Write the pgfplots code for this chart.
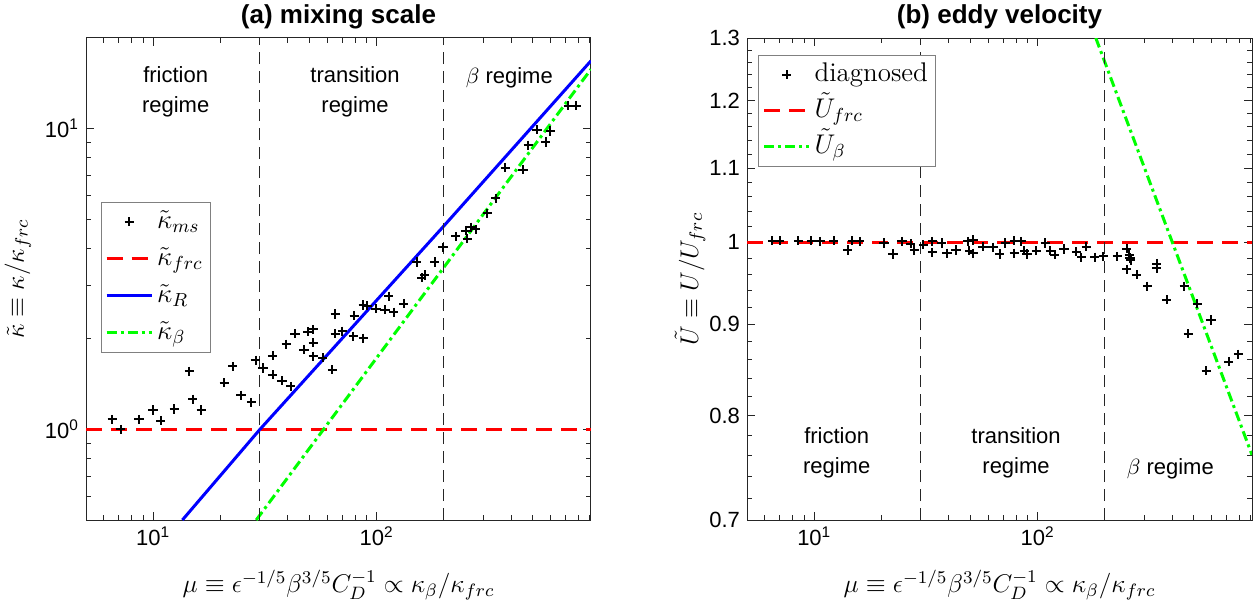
\RequirePackage{fix-cm}
\documentclass[border=0pt]{standalone}
\usepackage{fontspec}
\setmainfont{Latin Modern Roman}
\setsansfont{Liberation Sans}
\usepackage{pgfplots}
\usepackage{pgfplotstable}
\pgfplotsset{compat=1.18}
\definecolor{axgray}{rgb}{0.15,0.15,0.15}
\definecolor{mgreen}{rgb}{0,1,0}
\pgfplotsset{legend image code/.code={\draw[mark repeat=2,mark phase=2,#1] plot coordinates {(0pt,0pt) (11.25pt,0pt) (22.5pt,0pt)};}}

\pgfplotstableread{
mu k
6.56 1.08
7.16 1.00
8.64 1.08
9.98 1.16
10.8 1.07
12.4 1.17
14.5 1.56
15.0 1.26
16.4 1.16
20.8 1.43
22.7 1.62
24.7 1.30
27.5 1.23
28.7 1.70
31.0 1.60
34.2 1.76
34.2 1.52
37.7 1.45
41.3 1.39
39.4 1.92
43.1 2.08
47.3 1.84
49.3 2.11
52.0 2.15
52.0 1.94
52.0 1.75
57.3 1.73
63.4 1.58
65.2 2.42
65.2 2.08
70.1 2.12
78.5 2.04
87.1 2.01
79.3 2.39
87.1 2.59
90.8 2.58
99.2 2.52
109 2.50
119 2.45
113 2.77
132 2.62
151 3.60
159 3.19
164 3.26
182 3.60
198 4.03
226 4.38
250 4.58
254 4.31
263 4.70
277 4.62
312 5.23
341 5.87
377 7.42
452 7.30
476 8.80
522 9.91
571 9.02
599 9.81
719 11.9
783 11.9
}\kms

\pgfplotstableread{
mu U
6.5 1.002
7.0 1.002
8.5 1.002
9.7 1.002
10.6 1.001
12.2 1.002
14.1 0.990
14.8 1.002
16.0 1.001
20.5 0.999
22.5 0.985
24.7 1.001
27.0 0.998
28.0 0.990
30.8 0.997
33.8 1.001
33.8 0.987
37.2 0.999
39.3 0.986
43.1 0.990
48.6 1.001
49.5 0.989
51.3 1.003
51.3 0.986
56.9 0.9945
63.1 0.9936
67.6 0.985
71.6 0.999
78.6 1.002
78.6 0.986
84.5 1.001
87.1 0.989
89.5 0.985
98.6 0.989
108 0.999
114 0.989
119 0.984
131 0.9915
149 0.988
157 0.981
165 0.9945
180 0.981
197 0.982
227 0.982
250 0.992
257 0.984
259 0.980
261 0.977
250 0.966
277 0.959
310 0.945
341 0.973
341 0.967
378 0.929
453 0.945
518 0.924
472 0.889
597 0.905
568 0.848
716 0.858
791 0.866
}\Ud

\begin{document}
\begin{tikzpicture}
\useasboundingbox (0,0) rectangle (630pt,301pt);

% ---------------- (a) mixing scale
\begin{axis}[scale only axis, width=252.5pt, height=241pt,
  at={(43pt,41pt)}, anchor=south west,
  xmode=log, xmin=5, xmax=910,
  ymode=log, ymin=0.5, ymax=20,
  axis line style={draw=axgray, line width=0.5pt},
  every tick/.append style={axgray, line width=0.5pt},
  major tick length=4pt, minor tick length=2.5pt,
  xtick={10,100}, xticklabels={10\textsuperscript{1},10\textsuperscript{2}},
  minor xtick={5,6,7,8,9,20,30,40,50,60,70,80,90,200,300,400,500,600,700,800,900},
  ytick={1,10}, yticklabels={10\textsuperscript{0},10\textsuperscript{1}},
  minor ytick={0.5,0.6,0.7,0.8,0.9,2,3,4,5,6,7,8,9,20},
  ticklabel style={font=\sffamily\fontsize{11}{13}\selectfont, text=black},
  title={(a) mixing scale},
  title style={font=\sffamily\bfseries\fontsize{13}{15}\selectfont, yshift=-5pt},
  xlabel={$\mu \equiv \epsilon^{-1/5}\beta^{3/5}C_D^{-1} \propto \kappa_\beta/\kappa_{frc}$},
  xlabel style={font=\fontsize{12.8}{15}\selectfont, at={(axis description cs:0.5,-0.135)}, anchor=center},
  ylabel={$\tilde{\kappa} \equiv \kappa/\kappa_{frc}$},
  ylabel style={font=\fontsize{12.8}{15}\selectfont, at={(axis description cs:-0.135,0.5)}, anchor=center},
  legend cell align=left,
  legend style={at={(0.029,0.660)}, anchor=north west, draw=gray, line width=0.5pt, fill=white,
      font=\fontsize{13.5}{15}\selectfont, inner xsep=2pt, inner ysep=1.5pt, row sep=2pt,
      nodes={text height=11.5pt, text depth=5pt, inner ysep=0pt, inner xsep=2pt}},
]
\addplot[only marks, mark=+, mark size=2.3pt, mark options={line width=1pt, black}] table[x=mu,y=k] {\kms};
\addlegendentry{$\tilde{\kappa}_{ms}$}
\addplot[red, line width=1.5pt, dash pattern=on 8pt off 4.5pt] coordinates {(5,1) (910,1)};
\addlegendentry{$\tilde{\kappa}_{frc}$}
\addplot[blue, line width=1.5pt] coordinates {(13.5,0.5) (30,1) (200,4.75) (910,16.8)};
\addlegendentry{$\tilde{\kappa}_{R}$}
\addplot[mgreen, line width=1.5pt, dash pattern=on 5pt off 2pt on 1.5pt off 2pt] coordinates {(28.9,0.5) (910,15.75)};
\addlegendentry{$\tilde{\kappa}_{\beta}$}
\addplot[black!85, line width=0.5pt, dash pattern=on 6pt off 3.5pt, forget plot] coordinates {(30,0.5) (30,20)};
\addplot[black!85, line width=0.5pt, dash pattern=on 6pt off 3.5pt, forget plot] coordinates {(200,0.5) (200,20)};
\node[font=\sffamily\fontsize{11}{15}\selectfont, align=center] at (axis cs:12.6,13.2) {friction\\regime};
\node[font=\sffamily\fontsize{11}{15}\selectfont, align=center] at (axis cs:80,13.2) {transition\\regime};
\node[font=\sffamily\fontsize{11}{15}\selectfont] at (axis cs:392,14.8) {$\beta$ regime};
\end{axis}

% ---------------- (b) eddy velocity
\begin{axis}[scale only axis, width=252.5pt, height=241pt,
  at={(373.5pt,41pt)}, anchor=south west,
  xmode=log, xmin=5, xmax=910,
  ymode=log, ymin=0.7, ymax=1.3,
  axis line style={draw=axgray, line width=0.5pt},
  every tick/.append style={axgray, line width=0.5pt},
  major tick length=4pt, minor tick length=2.5pt,
  xtick={10,100}, xticklabels={10\textsuperscript{1},10\textsuperscript{2}},
  minor xtick={5,6,7,8,9,20,30,40,50,60,70,80,90,200,300,400,500,600,700,800,900},
  ytick={0.7,0.8,0.9,1,1.1,1.2,1.3}, yticklabels={0.7,0.8,0.9,1,1.1,1.2,1.3},
  minor ytick={0.72,0.74,0.76,0.78,0.82,0.84,0.86,0.88,0.92,0.94,0.96,0.98,1.02,1.04,1.06,1.08,1.12,1.14,1.16,1.18,1.22,1.24,1.26,1.28},
  ticklabel style={font=\sffamily\fontsize{11}{13}\selectfont, text=black},
  title={(b) eddy velocity},
  title style={font=\sffamily\bfseries\fontsize{13}{15}\selectfont, yshift=-5pt},
  xlabel={$\mu \equiv \epsilon^{-1/5}\beta^{3/5}C_D^{-1} \propto \kappa_\beta/\kappa_{frc}$},
  xlabel style={font=\fontsize{12.8}{15}\selectfont, at={(axis description cs:0.5,-0.135)}, anchor=center},
  ylabel={$\tilde{U} \equiv U/U_{frc}$},
  ylabel style={font=\fontsize{12.8}{15}\selectfont, at={(axis description cs:-0.113,0.5)}, anchor=center},
  legend cell align=left,
  legend style={at={(0.022,0.965)}, anchor=north west, draw=gray, line width=0.5pt, fill=white,
      font=\fontsize{13.5}{15}\selectfont, inner xsep=2pt, inner ysep=1.5pt, row sep=1.5pt,
      nodes={text height=11.5pt, text depth=5pt, inner ysep=0pt, inner xsep=2pt}},
]
\addplot[only marks, mark=+, mark size=2.3pt, mark options={line width=1pt, black}] table[x=mu,y=U] {\Ud};
\addlegendentry{diagnosed}
\addplot[red, line width=1.5pt, dash pattern=on 8pt off 4.5pt] coordinates {(5,1) (910,1)};
\addlegendentry{$\tilde{U}_{frc}$}
\addplot[mgreen, line width=1.5pt, dash pattern=on 5pt off 2pt on 1.5pt off 2pt] coordinates {(182,1.3) (910,0.761)};
\addlegendentry{$\tilde{U}_{\beta}$}
\addplot[black!85, line width=0.5pt, dash pattern=on 6pt off 3.5pt, forget plot] coordinates {(30,0.7) (30,1.3)};
\addplot[black!85, line width=0.5pt, dash pattern=on 6pt off 3.5pt, forget plot] coordinates {(200,0.7) (200,1.3)};
\node[font=\sffamily\fontsize{11}{15}\selectfont, align=center] at (axis cs:12.6,0.763) {friction\\regime};
\node[font=\sffamily\fontsize{11}{15}\selectfont, align=center] at (axis cs:80,0.763) {transition\\regime};
\node[font=\sffamily\fontsize{11}{15}\selectfont] at (axis cs:392,0.748) {$\beta$ regime};
\end{axis}
\end{tikzpicture}
\end{document}
